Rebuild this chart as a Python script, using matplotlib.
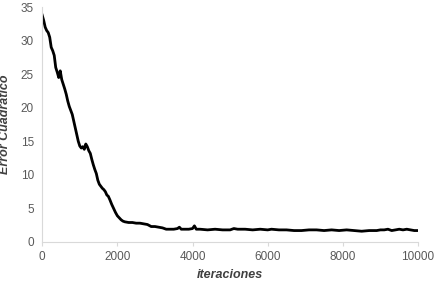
import numpy as np
from matplotlib import pyplot as plt

plt.rcParams['font.family'] = ['Liberation Sans', 'DejaVu Sans']

# values (iteration, squared error)
iters = [0, 40, 80, 120, 160, 200, 240, 280, 320, 360, 400, 440, 480, 520, 560,
         600, 640, 680, 720, 760, 800, 840, 880, 920, 960, 1000, 1040, 1080, 1120,
         1160, 1200, 1240, 1280, 1320, 1360, 1400, 1440, 1480, 1520, 1560, 1600,
         1640, 1680, 1720, 1760, 1800, 1850, 1900, 1950, 2000, 2050, 2100, 2150,
         2200, 2300, 2400, 2500, 2600, 2700, 2800, 2900, 3000, 3100, 3200, 3300,
         3400, 3500, 3600, 3650, 3700, 3800, 3900, 4000, 4050, 4100, 4200, 4400,
         4600, 4800, 5000, 5100, 5200, 5400, 5600, 5800, 6000, 6100, 6300, 6500,
         6700, 6900, 7100, 7300, 7500, 7700, 7900, 8100, 8300, 8500, 8700, 8900,
         9000, 9100, 9200, 9300, 9400, 9500, 9600, 9700, 9800, 9900, 10000]
error = [33.8, 33.0, 32.0, 31.5, 31.2, 30.5, 29.0, 28.5, 27.8, 26.0, 25.3, 24.5,
         25.5, 24.2, 23.5, 22.8, 22.0, 21.0, 20.2, 19.6, 19.0, 18.0, 17.0, 16.0,
         15.0, 14.3, 14.0, 14.2, 13.8, 14.6, 14.2, 13.6, 13.2, 12.3, 11.5, 10.8,
         10.2, 9.2, 8.6, 8.3, 8.0, 7.8, 7.5, 7.0, 6.8, 6.3, 5.6, 5.0, 4.4, 3.9,
         3.6, 3.3, 3.1, 3.0, 2.9, 2.9, 2.8, 2.8, 2.7, 2.6, 2.3, 2.3, 2.2, 2.1,
         1.9, 1.9, 1.9, 2.0, 2.2, 1.9, 1.9, 1.9, 2.0, 2.4, 1.9, 1.9, 1.8, 1.9,
         1.8, 1.8, 2.0, 1.9, 1.9, 1.8, 1.9, 1.8, 1.9, 1.8, 1.8, 1.7, 1.7, 1.8,
         1.8, 1.7, 1.8, 1.7, 1.8, 1.7, 1.6, 1.7, 1.7, 1.8, 1.8, 1.9, 1.7, 1.8,
         1.9, 1.8, 1.9, 1.8, 1.7, 1.7]

fig = plt.figure(figsize=(4.35, 2.83), dpi=100)
ax = fig.add_axes([0.097, 0.145, 0.864, 0.83])

ax.plot(iters, error, color="black", linewidth=2.0)

ax.set_xlim(0, 10000)
ax.set_ylim(0, 35)
ax.set_xticks(range(0, 10001, 2000))
ax.set_yticks(range(0, 36, 5))

for s in ["top", "right"]:
    ax.spines[s].set_visible(False)
for s in ["left", "bottom"]:
    ax.spines[s].set_color("#d9d9d9")
ax.tick_params(axis="x", length=3, color="#d9d9d9", labelsize=8.5, labelcolor="#595959")
ax.tick_params(axis="y", length=0, labelsize=8.5, labelcolor="#595959", pad=6)

ax.set_xlabel("iteraciones", fontsize=9, fontweight="bold", fontstyle="italic", color="#404040")
ax.set_ylabel("Error Cuadrático", fontsize=9, fontweight="bold", fontstyle="italic", color="#404040")
ax.yaxis.set_label_coords(-0.083, 0.5)

plt.savefig("out.png")
